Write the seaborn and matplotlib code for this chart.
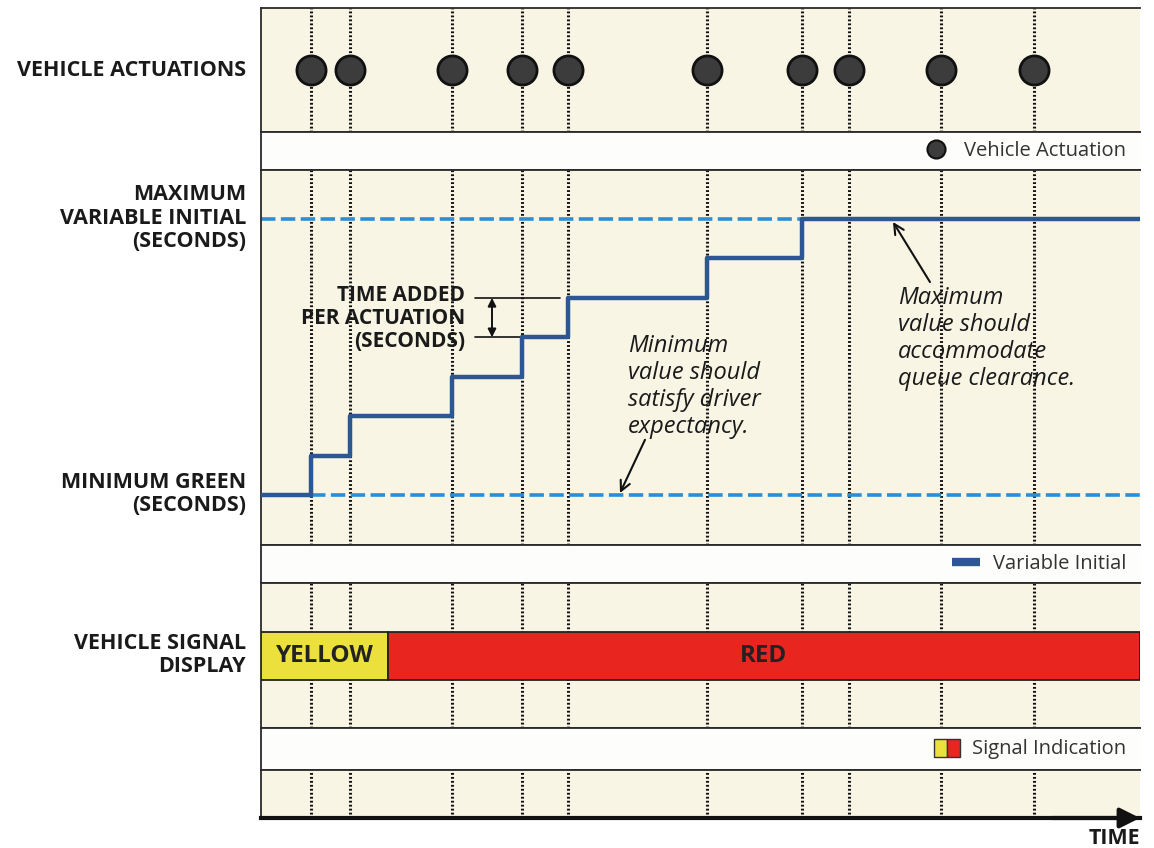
import matplotlib
matplotlib.use("Agg")
import numpy as np
import pandas as pd
import matplotlib.pyplot as plt
import seaborn as sns
from matplotlib.lines import Line2D
from matplotlib.patches import Patch
from matplotlib.legend_handler import HandlerTuple

# Data (time in arbitrary units, variable initial in seconds)
actuation_times = [5.0, 8.9, 19.1, 26.1, 30.7, 44.6, 54.1, 58.8, 68.0, 77.3]
end_time = 87.9
step_times = [0.0, 5.0, 8.9, 19.1, 26.1, 30.7, 44.6, 54.1]
variable_initial = [10, 12, 14, 16, 18, 20, 22, 24]
min_green = 10
max_initial = 24
signal_phases = ["YELLOW", "RED"]
phase_start = [0.0, 12.7]
phase_end = [12.7, 87.9]
phase_colors = ["#ebe03c", "#e8261f"]

cream = "#f8f5e5"
strip = "#fdfdfb"
navy = "#2c5793"
light_blue = "#2a8fd8"

sns.set_style("white")
plt.rcParams["font.family"] = ["Open Sans", "DejaVu Sans"]

W, H = 1154, 848
fig = plt.figure(figsize=(W / 100, H / 100), dpi=100)


def band(top, bottom, color):
    ax = fig.add_axes([261 / W, 1 - bottom / H, 879 / W, (bottom - top) / H])
    ax.set_facecolor(color)
    ax.set_xlim(0, end_time)
    ax.set_xticks([])
    ax.set_yticks([])
    for s in ["top", "bottom", "left"]:
        ax.spines[s].set_color("#2a2a2a")
        ax.spines[s].set_linewidth(1.3)
        ax.spines[s].set_visible(True)
    ax.spines["right"].set_visible(False)
    return ax


def guides(ax):
    for t in actuation_times:
        ax.axvline(t, color="#111111", lw=2.2, ls=(0, (0.6, 0.7)), zorder=1)


# Vehicle actuations
ax_act = band(8, 132, cream)
guides(ax_act)
ax_act.set_ylim(-1, 1)
sns.scatterplot(x=actuation_times, y=[0] * len(actuation_times), ax=ax_act,
                s=440, color="#3c3c3c", edgecolor="#111111", linewidth=2, zorder=3)

ax_l1 = band(132, 170, strip)
ax_l1.legend(handles=[Line2D([], [], marker="o", ls="", markersize=13,
                            markerfacecolor="#3c3c3c", markeredgecolor="#111111",
                            markeredgewidth=1.5)],
             labels=["Vehicle Actuation"], loc="center right", frameon=False,
             fontsize=14.5, borderpad=0, borderaxespad=0.7, handletextpad=0.4,
             labelcolor="#333333")

# Variable initial panel
ax_vi = band(170, 545, cream)
guides(ax_vi)
px_per_s = 276 / 14
ax_vi.set_ylim(min_green - 50 / px_per_s, max_initial + 49 / px_per_s)
ax_vi.plot([0, step_times[-1]], [max_initial, max_initial], color=light_blue,
           lw=2.6, dashes=(4, 1.5), zorder=2)
ax_vi.plot([step_times[1], end_time], [min_green, min_green], color=light_blue,
           lw=2.6, dashes=(4, 1.5), zorder=2)
df_step = pd.DataFrame({"time": step_times + [end_time],
                        "initial": variable_initial + [variable_initial[-1]]})
sns.lineplot(data=df_step, x="time", y="initial", ax=ax_vi, drawstyle="steps-post",
             color=navy, lw=3.2, zorder=4)
ax_vi.set_xlabel("")
ax_vi.set_ylabel("")

# time added bracket
ax_vi.plot([21.4, 29.9], [20, 20], color="#111111", lw=1.2)
ax_vi.plot([21.4, 25.9], [18, 18], color="#111111", lw=1.2)
ax_vi.annotate("", xy=(23.1, 20), xytext=(23.1, 18),
               arrowprops=dict(arrowstyle="<|-|>", color="#111111", lw=1.4,
                               mutation_scale=12, shrinkA=0, shrinkB=0))
ax_vi.text(20.4, 18.95, "TIME ADDED\nPER ACTUATION\n(SECONDS)", ha="right",
           va="center", fontsize=15, fontweight="bold", linespacing=1.15,
           color="#1a1a1a", multialignment="right")

ax_vi.text(36.7, 15.5, "Minimum\nvalue should\nsatisfy driver\nexpectancy.",
           ha="left", va="center", fontsize=17, style="italic", linespacing=1.17,
           color="#1a1a1a")
ax_vi.annotate("", xy=(35.9, 10.1), xytext=(38.4, 12.8),
               arrowprops=dict(arrowstyle="->", color="#111111", lw=1.5,
                               mutation_scale=18, shrinkA=0, shrinkB=0))
ax_vi.text(63.7, 17.95, "Maximum\nvalue should\naccommodate\nqueue clearance.",
           ha="left", va="center", fontsize=17, style="italic", linespacing=1.17,
           color="#1a1a1a")
ax_vi.annotate("", xy=(63.2, 23.85), xytext=(66.9, 20.8),
               arrowprops=dict(arrowstyle="->", color="#111111", lw=1.5,
                               mutation_scale=18, shrinkA=0, shrinkB=0))

ax_l2 = band(545, 583, strip)
ax_l2.legend(handles=[Line2D([], [], color=navy, lw=6, solid_capstyle="butt")],
             labels=["Variable Initial"], loc="center right", frameon=False,
             fontsize=14.5, borderpad=0, borderaxespad=0.7, handletextpad=0.6,
             handlelength=1.4, labelcolor="#333333")

# Signal display
ax_sig = band(583, 728, cream)
guides(ax_sig)
ax_sig.set_ylim(0, 1)
for name, a, b, c in zip(signal_phases, phase_start, phase_end, phase_colors):
    ax_sig.barh(0.4965, b - a, left=a, height=0.331, color=c, edgecolor="#222222",
                lw=1.3, zorder=3)
    ax_sig.text((a + b) / 2, 0.4965, name, ha="center", va="center", fontsize=17.5,
                fontweight="bold", color="#222222", zorder=4)

ax_l3 = band(728, 770, strip)
ax_l3.legend(handles=[(Patch(facecolor=phase_colors[0], edgecolor="#333333"),
                       Patch(facecolor=phase_colors[1], edgecolor="#333333"))],
             labels=["Signal Indication"], loc="center right", frameon=False,
             fontsize=14.5, borderpad=0, borderaxespad=0.7, handletextpad=0.6,
             handlelength=1.3, handleheight=1.0, labelcolor="#333333",
             handler_map={tuple: HandlerTuple(ndivide=None, pad=0)})

ax_bot = band(770, 818, cream)
guides(ax_bot)
ax_bot.spines["bottom"].set_linewidth(3)
ax_bot.spines["bottom"].set_color("#111111")
ax_bot.annotate("", xy=(1.0, 0), xytext=(0.9, 0), xycoords="axes fraction",
                arrowprops=dict(arrowstyle="-|>", color="#111111", lw=3,
                                mutation_scale=30, shrinkA=0, shrinkB=0),
                annotation_clip=False)

# Left labels
lab = dict(ha="right", va="center", fontsize=15.5, fontweight="bold",
           color="#1a1a1a", linespacing=1.15, multialignment="right")
fig.text(246 / W, 1 - 70 / H, "VEHICLE ACTUATIONS", **lab)
fig.text(246 / W, 1 - 218 / H, "MAXIMUM\nVARIABLE INITIAL\n(SECONDS)", **lab)
fig.text(246 / W, 1 - 494 / H, "MINIMUM GREEN\n(SECONDS)", **lab)
fig.text(246 / W, 1 - 655 / H, "VEHICLE SIGNAL\nDISPLAY", **lab)
fig.text(1140 / W, 1 - 839 / H, "TIME", **lab)

fig.savefig("out.png", dpi=100, facecolor="white")
